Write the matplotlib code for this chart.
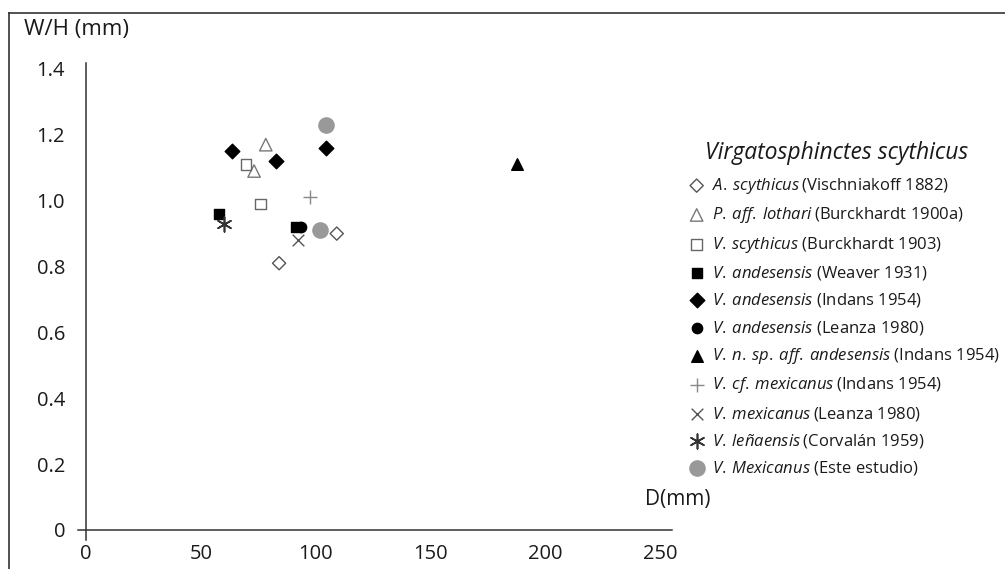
import matplotlib
matplotlib.use("Agg")
import matplotlib.pyplot as plt
from matplotlib.lines import Line2D

plt.rcParams['font.family'] = ['Open Sans', 'DejaVu Sans']
plt.rcParams['mathtext.fontset'] = 'custom'
plt.rcParams['mathtext.it'] = 'Open Sans:italic'
plt.rcParams['mathtext.rm'] = 'Open Sans'

# D (mm) and W/H values
a_scyth_x = [84.1, 109.2]
a_scyth_y = [0.81, 0.90]
p_loth_x = [78.3, 73.2]
p_loth_y = [1.17, 1.09]
v_scyth_x = [69.7, 76.1]
v_scyth_y = [1.11, 0.99]
and_weaver_x = [58.1, 91.5]
and_weaver_y = [0.96, 0.92]
and_indans_x = [63.7, 82.6, 104.4]
and_indans_y = [1.15, 1.12, 1.16]
and_leanza_x = [93.5]
and_leanza_y = [0.92]
nsp_x = [187.8]
nsp_y = [1.11]
cf_mex_x = [97.6]
cf_mex_y = [1.01]
mex_leanza_x = [92.2]
mex_leanza_y = [0.88]
lena_x = [60.3]
lena_y = [0.93]
este_x = [104.4, 101.9]
este_y = [1.23, 0.91]

labels = [
    r"$\mathit{A.\:scythicus\:(}$Vischniakoff 1882)",
    r"$\mathit{P.\:aff.\:lothari\:(}$Burckhardt 1900a)",
    r"$\mathit{V.\:scythicus}$ (Burckhardt 1903)",
    r"$\mathit{V.\:andesensis}$ (Weaver 1931)",
    r"$\mathit{V.\:andesensis}$ (Indans 1954)",
    r"$\mathit{V.\:andesensis}$ (Leanza 1980)",
    r"$\mathit{V.\:n.\:sp.\:aff.\:andesensis}$ (Indans 1954)",
    r"$\mathit{V.\:cf.\:mexicanus\:(}$Indans 1954)",
    r"$\mathit{V.\:mexicanus\:(}$Leanza 1980)",
    r"$\mathit{V.\:leñaensis\:(}$Corvalán 1959)",
    r"$\mathit{V.\:Mexicanus}$ (Este estudio)",
]

fig = plt.figure(figsize=(10.05, 5.69), dpi=100)
ax = fig.add_axes([78 / 1005, 1 - 540 / 569, 594 / 1005, 477 / 569])

series = [
    (a_scyth_x, a_scyth_y, dict(marker='D', facecolors='none', edgecolors='#555555', s=45, linewidths=1)),
    (p_loth_x, p_loth_y, dict(marker='^', facecolors='none', edgecolors='#777777', s=80, linewidths=1)),
    (v_scyth_x, v_scyth_y, dict(marker='s', facecolors='none', edgecolors='#666666', s=60, linewidths=1)),
    (and_weaver_x, and_weaver_y, dict(marker='s', color='black', s=45)),
    (and_indans_x, and_indans_y, dict(marker='D', color='black', s=55)),
    (and_leanza_x, and_leanza_y, dict(marker='o', color='black', s=55)),
    (nsp_x, nsp_y, dict(marker='^', color='black', s=70)),
    (cf_mex_x, cf_mex_y, dict(marker='+', color='#888888', s=110, linewidths=1)),
    (mex_leanza_x, mex_leanza_y, dict(marker='x', color='#555555', s=70, linewidths=1)),
    (lena_x, lena_y, dict(marker=(6, 2, 0), color='#333333', s=110, linewidths=1.2)),
    (este_x, este_y, dict(marker='o', color='#999999', s=120)),
]

handles = []
for xs, ys, kw in series:
    handles.append(ax.scatter(xs, ys, zorder=3, **kw))

ax.set_xlim(-3.48, 255.2)
ax.set_ylim(-0.0304, 1.418)
ax.spines['left'].set_position(('data', 0))
ax.spines['bottom'].set_position(('data', 0))
ax.spines['top'].set_visible(False)
ax.spines['right'].set_visible(False)
for sp in ['left', 'bottom']:
    ax.spines[sp].set_color('#333333')
    ax.spines[sp].set_linewidth(1.1)

ax.set_xticks([0, 50, 100, 150, 200, 250])
ax.set_yticks([0, 0.2, 0.4, 0.6, 0.8, 1.0, 1.2, 1.4])
ax.set_yticklabels(['0', '0.2', '0.4', '0.6', '0.8', '1.0', '1.2', '1.4'])
ax.tick_params(axis='both', length=0, labelsize=14.5, colors='#1a1a1a')
ax.tick_params(axis='y', pad=15)
ax.tick_params(axis='x', pad=10)
ax.patch.set_alpha(0)

fig.text(24 / 1005, 1 - 30 / 569, 'W/H (mm)', fontsize=16, va='center', ha='left', color='#1a1a1a')
fig.text(645 / 1005, 1 - 499 / 569, 'D(mm)', fontsize=15, va='center', ha='left', color='#1a1a1a')

fig.text(705 / 1005, 1 - 153 / 569, 'Virgatosphinctes scythicus', fontsize=16.5,
         style='italic', va='center', ha='left', color='#1a1a1a')
leg = fig.legend(handles, labels, loc='upper left', bbox_to_anchor=(690 / 1005, 1 - 176 / 569),
                 frameon=False, fontsize=12, scatterpoints=1, handlelength=0.8,
                 handletextpad=0.5, labelspacing=0.56, borderaxespad=0, borderpad=0)
for t in leg.get_texts():
    t.set_color('#1a1a1a')

# outer frame
fig.add_artist(Line2D([9 / 1005, 9 / 1005], [1 - 13 / 569, 0], transform=fig.transFigure,
                      color='#333333', lw=1.2))
fig.add_artist(Line2D([9 / 1005, 1], [1 - 13 / 569, 1 - 13 / 569], transform=fig.transFigure,
                      color='#333333', lw=1.2))

fig.savefig('out.png', dpi=100)
